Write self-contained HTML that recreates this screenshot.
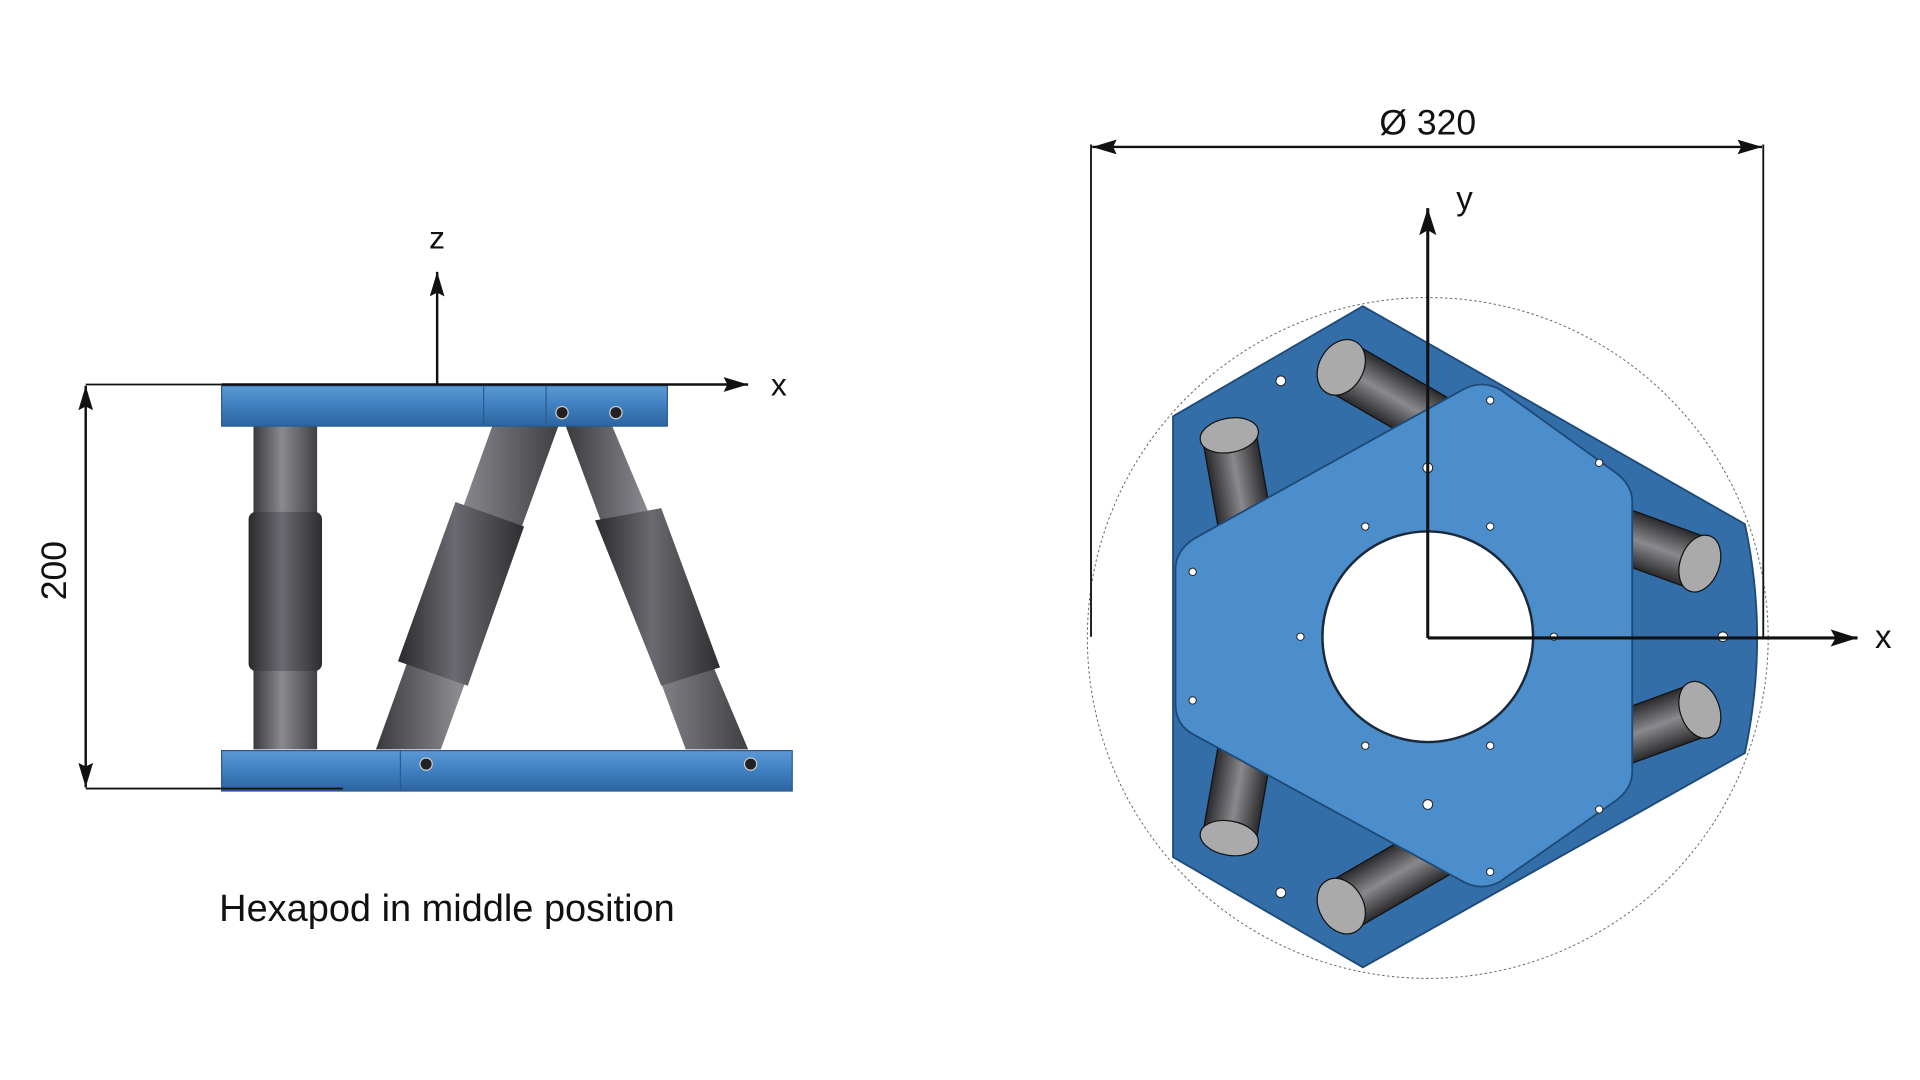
<!DOCTYPE html>
<html><head><meta charset="utf-8"><style>html,body{margin:0;padding:0;background:#fff;}svg{display:block}</style></head>
<body>
<svg width="1920" height="1080" viewBox="0 0 1568 882" xmlns="http://www.w3.org/2000/svg" font-family="Liberation Sans, sans-serif">
<defs>
<marker id="ar" viewBox="0 0 20 12" refX="20" refY="6" markerWidth="20" markerHeight="12" orient="auto-start-reverse" markerUnits="userSpaceOnUse">
<path d="M0,0 L20,6 L0,12 L3,6 z" fill="#111"/></marker>
<marker id="ar2" viewBox="0 0 22 14" refX="22" refY="7" markerWidth="22" markerHeight="14" orient="auto-start-reverse" markerUnits="userSpaceOnUse">
<path d="M0,0 L22,7 L0,14 L4,7 z" fill="#111"/></marker>
<linearGradient id="leg" x1="0" x2="1" y1="0" y2="0"><stop offset="0" stop-color="#3a3a3e"/><stop offset=".45" stop-color="#8a8a90"/><stop offset="1" stop-color="#404044"/></linearGradient>
<linearGradient id="legd" x1="0" x2="1"><stop offset="0" stop-color="#2a2a2e"/><stop offset=".45" stop-color="#6a6a70"/><stop offset="1" stop-color="#2e2e32"/></linearGradient>
<linearGradient id="plate" x1="0" x2="0" y1="0" y2="1"><stop offset="0" stop-color="#5c9ad6"/><stop offset=".5" stop-color="#3f7fc0"/><stop offset="1" stop-color="#2d64a0"/></linearGradient>
<linearGradient id="cyl" x1="0" x2="0" y1="0" y2="1"><stop offset="0" stop-color="#2a2a2c"/><stop offset=".5" stop-color="#8a8a8e"/><stop offset="1" stop-color="#2a2a2c"/></linearGradient>
</defs>

<!-- LEFT VIEW -->
<rect x="207" y="348" width="52" height="264" fill="url(#leg)"/>
<rect x="203" y="418" width="60" height="130" rx="6" fill="url(#legd)"/>
<polygon points="402,348 456,348 360,612 307,612" fill="url(#leg)"/>
<polygon points="372,410 428,430 382,560 325,540" fill="url(#legd)"/>
<polygon points="462,348 500,348 611,612 560,612" fill="url(#leg)"/>
<polygon points="486,425 540,415 588,545 540,560" fill="url(#legd)"/>
<rect x="181" y="315" width="364" height="33" fill="url(#plate)" stroke="#2a5a90" stroke-width="1"/>
<line x1="395" y1="315" x2="395" y2="348" stroke="#2a5a90"/><line x1="446" y1="315" x2="446" y2="348" stroke="#2a5a90"/>
<circle cx="459" cy="337" r="5" fill="#222" stroke="#ccc"/><circle cx="503" cy="337" r="5" fill="#222" stroke="#ccc"/>
<rect x="181" y="613" width="466" height="33" fill="url(#plate)" stroke="#2a5a90" stroke-width="1"/>
<line x1="327" y1="613" x2="327" y2="646" stroke="#2a5a90"/>
<circle cx="348" cy="624" r="5" fill="#222" stroke="#ccc"/><circle cx="613" cy="624" r="5" fill="#222" stroke="#ccc"/>
<line x1="357" y1="314" x2="357" y2="222" stroke="#111" stroke-width="2" marker-end="url(#ar)"/>
<line x1="181" y1="314" x2="611" y2="314" stroke="#111" stroke-width="2" marker-end="url(#ar)"/>
<text x="357" y="203" font-size="26" text-anchor="middle" fill="#111">z</text>
<text x="636" y="323" font-size="26" text-anchor="middle" fill="#111">x</text>
<line x1="70" y1="314" x2="181" y2="314" stroke="#111" stroke-width="1.5"/>
<line x1="70" y1="644" x2="280" y2="644" stroke="#111" stroke-width="1.5"/>
<line x1="70" y1="315" x2="70" y2="643" stroke="#111" stroke-width="2" marker-start="url(#ar)" marker-end="url(#ar)"/>
<text transform="translate(54,466) rotate(-90)" font-size="29" text-anchor="middle" fill="#111">200</text>
<text x="365" y="752" font-size="31" text-anchor="middle" fill="#111">Hexapod in middle position</text>

<!-- RIGHT VIEW -->
<circle cx="1166" cy="521" r="278" fill="none" stroke="#666" stroke-width="0.8" stroke-dasharray="2,2"/>
<path d="M958,340 L1113,250 L1425,428 Q1445,521 1425,615 L1113,790 L958,700 Z" fill="#336ea8" stroke="#1e4a78" stroke-width="1.5"/>
<g stroke="#111" stroke-width="1">
<g transform="translate(1130,320) rotate(30)"><rect x="-40" y="-22" width="90" height="44" fill="url(#cyl)"/><ellipse cx="-40" cy="0" rx="18" ry="24" fill="#aaa"/></g>
<g transform="translate(1010,390) rotate(80)"><rect x="-35" y="-22" width="80" height="44" fill="url(#cyl)"/><ellipse cx="-35" cy="0" rx="14" ry="24" fill="#aaa"/></g>
<g transform="translate(1360,450) rotate(20)"><rect x="-40" y="-22" width="70" height="44" fill="url(#cyl)"/><ellipse cx="30" cy="0" rx="16" ry="24" fill="#aaa"/></g>
<g transform="translate(1360,590) rotate(-20)"><rect x="-40" y="-22" width="70" height="44" fill="url(#cyl)"/><ellipse cx="30" cy="0" rx="16" ry="24" fill="#aaa"/></g>
<g transform="translate(1010,650) rotate(-80)"><rect x="-35" y="-22" width="80" height="44" fill="url(#cyl)"/><ellipse cx="-35" cy="0" rx="14" ry="24" fill="#aaa"/></g>
<g transform="translate(1130,720) rotate(-30)"><rect x="-40" y="-22" width="90" height="44" fill="url(#cyl)"/><ellipse cx="-40" cy="0" rx="18" ry="24" fill="#aaa"/></g>
</g>
<path d="M975,440 L1195,318 Q1210,310 1225,318 L1318,385 Q1333,395 1333,410 L1333,630 Q1333,645 1318,655 L1225,720 Q1210,728 1195,720 L975,600 Q960,592 960,575 L960,465 Q960,450 975,440 Z" fill="#4b8ecb" stroke="#1e4a78" stroke-width="1.5"/>
<circle cx="1166" cy="520" r="86" fill="#fff" stroke="#1a2a3a" stroke-width="2"/>
<g fill="#fff" stroke="#222" stroke-width="0.8">
<circle cx="1217" cy="327" r="3"/><circle cx="1306" cy="378" r="3"/><circle cx="1115" cy="430" r="3"/><circle cx="1217" cy="430" r="3"/>
<circle cx="974" cy="467" r="3"/><circle cx="1062" cy="520" r="3"/><circle cx="1269" cy="520" r="3"/><circle cx="974" cy="572" r="3"/>
<circle cx="1115" cy="609" r="3"/><circle cx="1217" cy="609" r="3"/><circle cx="1166" cy="657" r="4"/><circle cx="1306" cy="661" r="3"/><circle cx="1217" cy="712" r="3"/>
<circle cx="1046" cy="311" r="4"/><circle cx="1046" cy="729" r="4"/><circle cx="1407" cy="520" r="4"/><circle cx="1166" cy="382" r="4"/>
</g>
<line x1="1166" y1="521" x2="1166" y2="170" stroke="#111" stroke-width="2.5" marker-end="url(#ar2)"/>
<line x1="1166" y1="521" x2="1517" y2="521" stroke="#111" stroke-width="2.5" marker-end="url(#ar2)"/>
<text x="1196" y="171" font-size="27" text-anchor="middle" fill="#111">y</text>
<text x="1538" y="529" font-size="27" text-anchor="middle" fill="#111">x</text>
<line x1="891" y1="118" x2="891" y2="520" stroke="#111" stroke-width="1.5"/>
<line x1="1440" y1="118" x2="1440" y2="520" stroke="#111" stroke-width="1.5"/>
<line x1="892" y1="120" x2="1439" y2="120" stroke="#111" stroke-width="2" marker-start="url(#ar)" marker-end="url(#ar)"/>
<text x="1166" y="110" font-size="29" text-anchor="middle" fill="#111">Ø 320</text>
</svg>
</body></html>
